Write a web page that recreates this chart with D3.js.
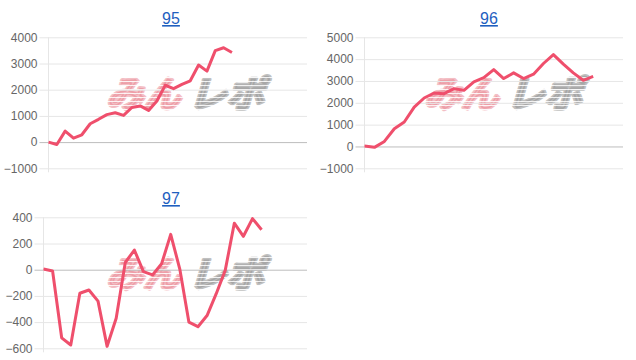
<!DOCTYPE html>
<html>
<head>
<meta charset="utf-8">
<script src="https://cdn.jsdelivr.net/npm/d3@7"></script>
<style>
    body { margin: 0; background: #fff; }
    svg { display: block; font-family: "Liberation Sans", Arial, sans-serif; }
</style>
</head>
<body>
<div id="chart"></div>
<script>
// Chart data
const titles = ["95", "96", "97"];
const series95 = [0, -90, 420, 150, 280, 700, 870, 1050, 1120, 1020, 1320, 1380, 1210, 1570,
    2170, 2040, 2200, 2340, 2940, 2710, 3490, 3600, 3420];
const series96 = [20, -40, 230, 810, 1120, 1800, 2220, 2450, 2420, 2650, 2570, 2960, 3150, 3520,
    3110, 3370, 3110, 3310, 3800, 4210, 3770, 3370, 3030, 3210];
const series97 = [5, -10, -520, -575, -180, -155, -240, -585, -370, 55, 150, -15, -40, 45,
    270, 5, -400, -435, -350, -185, -5, 355, 255, 390, 305];
const slotCounts = [32, 27, 30];
const ticks95 = [-1000, 0, 1000, 2000, 3000, 4000];
const ticks96 = [-1000, 0, 1000, 2000, 3000, 4000, 5000];
const ticks97 = [-600, -400, -200, 0, 200, 400];

// Configuration object
const config = {
    width: 636,
    height: 360,
    panels: [
        { x: 0, y: 0, left: 48.5, right: 307, top: 37.3, bottom: 168.3 },
        { x: 318, y: 0, left: 46.5, right: 305, top: 37.3, bottom: 168.3 },
        { x: 0, y: 180, left: 43.5, right: 307, top: 37.3, bottom: 168.3 }
    ],
    titleX: 171,
    titleY: 24,
    tickLength: 9,
    watermark: { x: 188, y: 94 },
    colors: {
        line: "#ef4f6c",
        grid: "#e6e6e6",
        zero: "#bdbdbd",
        tick: "#666",
        title: "#1f5fbf"
    }
};

const svg = d3.select("#chart")
    .append("svg")
    .attr("width", config.width)
    .attr("height", config.height);

// Striped fills for the watermark
const defs = svg.append("defs");
[["stripePink", "rgba(232,128,140,0.5)"], ["stripeGray", "rgba(150,150,150,0.6)"]].forEach(([id, color]) => {
    const p = defs.append("pattern")
        .attr("id", id)
        .attr("patternUnits", "userSpaceOnUse")
        .attr("width", 6)
        .attr("height", 4);
    p.append("rect").attr("width", 6).attr("height", 3.2).attr("fill", color);
});

function drawWatermark(g) {
    const wm = g.append("g")
        .attr("transform", `translate(${config.watermark.x},${config.watermark.y}) skewX(-16)`)
        .style("font-family", "'Noto Sans CJK JP', sans-serif")
        .style("font-weight", 700)
        .style("font-size", "36px");
    [["みん", -78, 74, "url(#stripePink)"], ["レポ", 4, 76, "url(#stripeGray)"]].forEach(([t, x0, len, fill]) => {
        wm.append("text")
            .attr("x", x0).attr("y", 13)
            .attr("textLength", len)
            .attr("lengthAdjust", "spacingAndGlyphs")
            .attr("fill", fill)
            .attr("stroke", fill)
            .attr("stroke-width", 3.5)
            .attr("stroke-linejoin", "round")
            .text(t);
    });
}

function drawPanel(p, title, values, ticks, slots) {
    const g = svg.append("g").attr("transform", `translate(${p.x},${p.y})`);

    const x = d3.scaleLinear().domain([0, slots - 1]).range([p.left, p.right]);
    const y = d3.scaleLinear().domain(d3.extent(ticks)).range([p.bottom, p.top]);

    // Title
    g.append("text")
        .attr("x", config.titleX)
        .attr("y", config.titleY)
        .attr("text-anchor", "middle")
        .attr("fill", config.colors.title)
        .style("font-size", "16px")
        .style("text-decoration", "underline")
        .text(title);

    drawWatermark(g);

    // Y axis with gridlines
    const axis = g.append("g")
        .attr("transform", `translate(${p.left},0)`)
        .call(d3.axisLeft(y)
            .tickValues(ticks)
            .tickSize(-(p.right - p.left))
            .tickPadding(2)
            .tickFormat(d3.format("d")));
    axis.select(".domain").remove();
    axis.selectAll(".tick line")
        .attr("x1", -config.tickLength)
        .attr("stroke", d => d === 0 ? config.colors.zero : config.colors.grid);
    axis.selectAll(".tick text")
        .attr("x", -config.tickLength - 2)
        .attr("fill", config.colors.tick)
        .style("font-size", "12px");

    // Vertical axis line
    g.append("line")
        .attr("x1", p.left).attr("x2", p.left)
        .attr("y1", p.top).attr("y2", p.bottom + 4)
        .attr("stroke", config.colors.grid);

    // Data line
    g.append("path")
        .datum(values)
        .attr("fill", "none")
        .attr("stroke", config.colors.line)
        .attr("stroke-width", 3)
        .attr("stroke-linejoin", "round")
        .attr("d", d3.line().x((d, i) => x(i)).y(d => y(d)));
}

drawPanel(config.panels[0], titles[0], series95, ticks95, slotCounts[0]);
drawPanel(config.panels[1], titles[1], series96, ticks96, slotCounts[1]);
drawPanel(config.panels[2], titles[2], series97, ticks97, slotCounts[2]);
</script>
</body>
</html>
